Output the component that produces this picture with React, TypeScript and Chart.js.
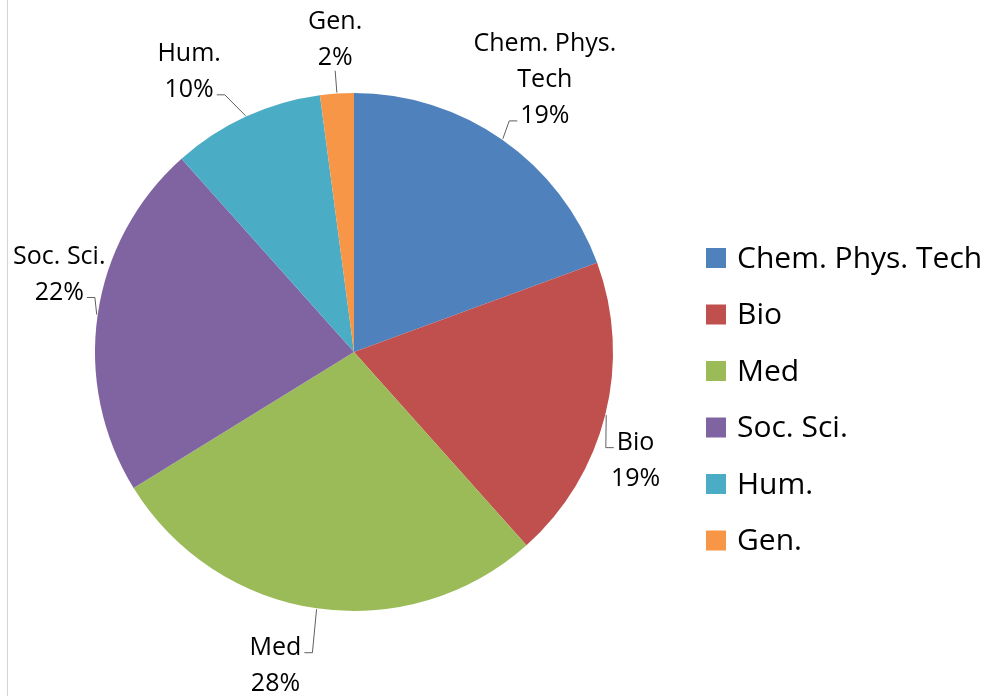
import React, { useEffect, useRef } from "react";
import { Chart, registerables } from "chart.js";

Chart.register(...registerables);

const categories = ["Chem. Phys. Tech", "Bio", "Med", "Soc. Sci.", "Hum.", "Gen."];
const shares = [19.4, 19.0, 27.8, 22.2, 9.5, 2.1];
const labelLines = [["Chem. Phys.", "Tech"], ["Bio"], ["Med"], ["Soc. Sci."], ["Hum."], ["Gen."]];
const colors = ["#4F81BD", "#C0504D", "#9BBB59", "#8064A2", "#4BACC6", "#F79646"];

const FONT = '"Open Sans", "DejaVu Sans", sans-serif';

// label placement tweaks (relative to the point at the slice's mid-angle)
const labelNudge: [number, number][] = [[10, -14], [-25, 31], [-33, 0], [18, -33], [-33, 6], [2, 2]];
const leaderAttach: { line: number; side: "left" | "right" | "bottom" }[] = [
  { line: 2, side: "left" },
  { line: 0, side: "left" },
  { line: 0, side: "right" },
  { line: 1, side: "right" },
  { line: 1, side: "right" },
  { line: 1, side: "bottom" },
];

const labelsPlugin = {
  id: "excelLabels",
  afterDraw(chart: any) {
    const ctx = chart.ctx as CanvasRenderingContext2D;
    const meta = chart.getDatasetMeta(0);
    const total = shares.reduce((a, b) => a + b, 0);
    ctx.save();
    // frame line at the left
    ctx.strokeStyle = "#d4d4d4";
    ctx.lineWidth = 1;
    ctx.beginPath();
    ctx.moveTo(7.5, 0);
    ctx.lineTo(7.5, chart.height);
    ctx.stroke();

    ctx.font = `25px ${FONT}`;
    ctx.textAlign = "center";
    ctx.textBaseline = "middle";
    const lh = 36;
    meta.data.forEach((arc: any, i: number) => {
      const { x, y, outerRadius, startAngle, endAngle } = arc.getProps(
        ["x", "y", "outerRadius", "startAngle", "endAngle"],
        true
      );
      const mid = (startAngle + endAngle) / 2;
      const d = outerRadius + 57;
      const cx = x + Math.cos(mid) * d + labelNudge[i][0];
      const cy = y + Math.sin(mid) * d + labelNudge[i][1];
      const pct = Math.round((shares[i] / total) * 100) + "%";
      const lines = [...labelLines[i], pct];
      const top = cy - (lines.length * lh) / 2;
      ctx.fillStyle = "#000";
      lines.forEach((t, k) => ctx.fillText(t, cx, top + lh * (k + 0.5) + 1));

      // leader line
      const ex = x + Math.cos(mid) * (outerRadius + 1);
      const ey = y + Math.sin(mid) * (outerRadius + 1);
      const at = leaderAttach[i];
      const lineText = lines[at.line];
      const w = ctx.measureText(lineText).width;
      const ly = top + lh * (at.line + 0.5);
      ctx.strokeStyle = "#5f5f5f";
      ctx.lineWidth = 1;
      ctx.beginPath();
      if (at.side === "bottom") {
        ctx.moveTo(cx, ly + 14);
        ctx.lineTo(ex, ey);
      } else {
        const sx = at.side === "left" ? cx - w / 2 - 3 : cx + w / 2 + 3;
        const dir = at.side === "left" ? -1 : 1;
        ctx.moveTo(sx, ly + 6);
        ctx.lineTo(sx + dir * 8, ly + 6);
        ctx.lineTo(ex, ey);
      }
      ctx.stroke();
    });

    // legend
    ctx.textAlign = "left";
    ctx.font = `30px ${FONT}`;
    categories.forEach((c, i) => {
      const yc = 258 + i * 56.5;
      ctx.fillStyle = colors[i];
      ctx.fillRect(706, yc - 10, 20, 20);
      ctx.fillStyle = "#000";
      ctx.fillText(c, 737, yc + 1);
    });
    ctx.restore();
  },
};

export default function App() {
  const ref = useRef<HTMLCanvasElement | null>(null);
  useEffect(() => {
    if (!ref.current) return;
    const chart = new Chart(ref.current, {
      type: "pie",
      data: {
        labels: categories,
        datasets: [
          {
            data: shares,
            backgroundColor: colors,
            borderWidth: 0,
            hoverOffset: 0,
          },
        ],
      },
      options: {
        responsive: false,
        animation: false,
        events: [],
        radius: 259,
        layout: { padding: { left: 84, right: 368, top: 82, bottom: 74 } },
        plugins: { legend: { display: false }, tooltip: { enabled: false } },
      } as any,
      plugins: [labelsPlugin],
    });
    return () => chart.destroy();
  }, []);
  return (
    <div style={{ position: "absolute", left: 0, top: 0, width: 992, height: 696, background: "#fff" }}>
      <canvas ref={ref} width={992} height={696} />
    </div>
  );
}
